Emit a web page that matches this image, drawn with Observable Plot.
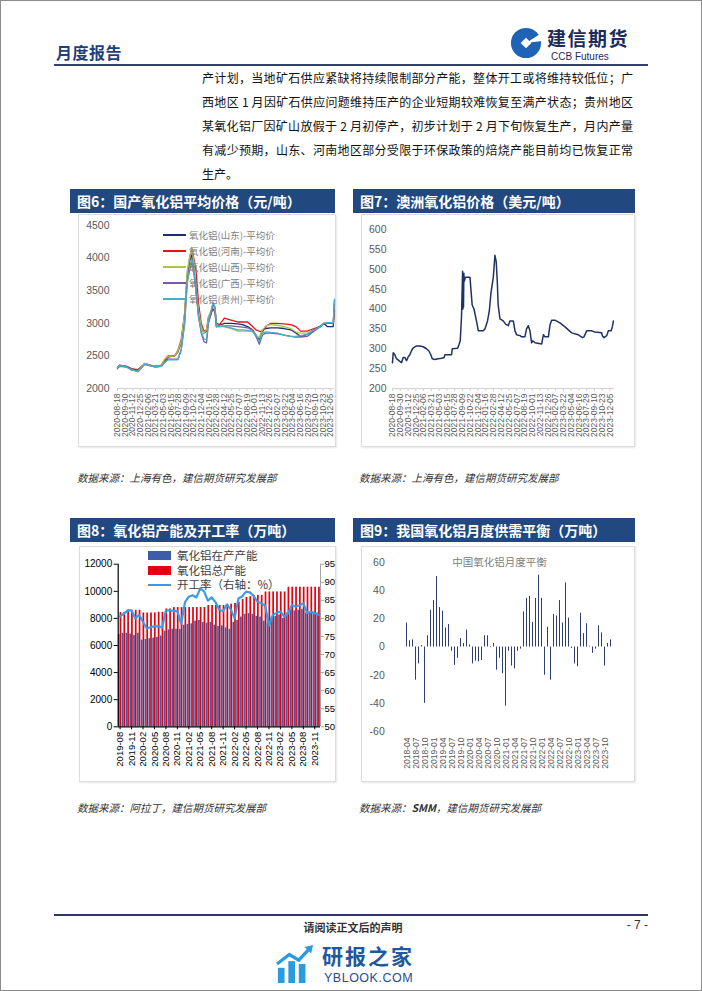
<!DOCTYPE html>
<html><head><meta charset="utf-8">
<script src="https://cdn.jsdelivr.net/npm/d3@7"></script>
<script src="https://cdn.jsdelivr.net/npm/@observablehq/plot@0.6"></script>
<style>
body{margin:0;background:#fff;font-family:"Noto Sans CJK SC","Noto Sans",sans-serif;}
#page{position:relative;width:702px;height:991px;box-sizing:border-box;border:1px solid #8c8c8c;overflow:hidden;background:#fff}
.abs{position:absolute}
.tbar{position:absolute;height:24px;background:#21497f;color:#fff;font-weight:bold;font-size:14px;line-height:24px;padding-left:7px;box-sizing:border-box;white-space:nowrap}
.panel{position:absolute;border:1px solid #dcdcdc;box-shadow:1px 1px 2px rgba(0,0,0,0.10);background:#fff;box-sizing:border-box}
.src{position:absolute;font-size:10.5px;font-style:italic;color:#333;white-space:nowrap}
.pl{position:absolute;left:201px;width:431px;font-size:12px;line-height:24px;color:#111;text-align:justify;text-align-last:justify}
.chart{position:absolute}
.lg6{position:absolute;font-size:9.5px;color:#808080;white-space:nowrap;line-height:12px}
.lg6 i{display:inline-block;width:23px;height:2px;vertical-align:middle;margin-right:3px;margin-top:-2px}
.lg8{position:absolute;font-size:11.5px;color:#404040;white-space:nowrap;line-height:14px}
</style>
</head><body>
<div id="page">
  <!-- header -->
  <div class="abs" style="left:55px;top:39px;font-size:16px;font-weight:bold;color:#1f3f7a;letter-spacing:0.5px">月度报告</div>
  <svg class="abs" style="left:509px;top:26px" width="32" height="32" viewBox="0 0 34 34">
    <circle cx="17" cy="17" r="16" fill="#1f63b6"/>
    <rect x="13" y="13" width="8" height="8" fill="#fff" transform="rotate(45 17 17)"/>
    <path d="M17 17 L34 6 L34 15 Z" fill="#fff"/>
  </svg>
  <div class="abs" style="left:546px;top:27px;font-size:19px;line-height:19px;font-weight:bold;color:#1c2a5c;letter-spacing:1.5px">建信期货</div>
  <div class="abs" style="left:550px;top:51px;font-size:10px;line-height:10px;color:#1c2a5c;font-family:'Liberation Sans',Arial">CCB Futures</div>
  <div class="abs" style="left:53px;top:63px;width:594px;height:2px;background:#34406e"></div>

  <!-- paragraph -->
  <div class="pl" style="top:65px">产计划，当地矿石供应紧缺将持续限制部分产能，整体开工或将维持较低位；广</div>
  <div class="pl" style="top:89px">西地区 1 月因矿石供应问题维持压产的企业短期较难恢复至满产状态；贵州地区</div>
  <div class="pl" style="top:113px">某氧化铝厂因矿山放假于 2 月初停产，初步计划于 2 月下旬恢复生产，月内产量</div>
  <div class="pl" style="top:137px">有减少预期，山东、河南地区部分受限于环保政策的焙烧产能目前均已恢复正常</div>
  <div class="pl" style="top:161px;text-align-last:left">生产。</div>

  <!-- figure titles -->
  <div class="tbar" style="left:69px;top:188px;width:265px">图6：国产氧化铝平均价格（元/吨）</div>
  <div class="tbar" style="left:352px;top:188px;width:282px">图7：澳洲氧化铝价格（美元/吨）</div>
  <div class="tbar" style="left:69px;top:517px;width:265px">图8：氧化铝产能及开工率（万吨）</div>
  <div class="tbar" style="left:352px;top:517px;width:282px">图9：我国氧化铝月度供需平衡（万吨）</div>

  <div class="panel" style="left:77px;top:213px;width:258px;height:233px"></div>
  <div class="panel" style="left:360px;top:213px;width:274px;height:233px"></div>
  <div class="panel" style="left:78px;top:545px;width:257px;height:236px"></div>
  <div class="panel" style="left:360px;top:545px;width:274px;height:236px"></div>

  <div id="c6" class="chart" style="left:77px;top:213px"></div>
  <div id="c7" class="chart" style="left:360px;top:213px"></div>
  <div id="c8" class="chart" style="left:78px;top:545px"></div>
  <div id="c9" class="chart" style="left:360px;top:545px"></div>

  <div id="lg6"></div>
  <div id="lg8"></div>
  <div class="abs" style="left:450px;top:553px;width:97px;text-align:center;font-size:10.5px;color:#808080;white-space:nowrap">中国氧化铝月度平衡</div>

  <div class="src" style="left:76px;top:469px">数据来源：上海有色，建信期货研究发展部</div>
  <div class="src" style="left:358px;top:469px">数据来源：上海有色，建信期货研究发展部</div>
  <div class="src" style="left:76px;top:799px">数据来源：阿拉丁，建信期货研究发展部</div>
  <div class="src" style="left:358px;top:799px">数据来源：<b>SMM</b>，建信期货研究发展部</div>

  <!-- footer -->
  <div class="abs" style="left:53px;top:913px;width:594px;height:2px;background:#2f3768"></div>
  <div class="abs" style="left:252px;top:918px;width:200px;text-align:center;font-size:11px;font-weight:bold;color:#333">请阅读正文后的声明</div>
  <div class="abs" style="left:612px;top:917px;width:35px;text-align:right;font-size:12px;color:#333;font-family:'Liberation Sans',Arial">- 7 -</div>
  <svg class="abs" style="left:275px;top:944px" width="38" height="38" viewBox="0 0 40 40">
    <rect x="2" y="24" width="7" height="16" fill="#2a9be0"/>
    <rect x="13" y="17" width="7" height="23" fill="#2a9be0"/>
    <rect x="24" y="20" width="7" height="20" fill="#2a9be0"/>
    <path d="M1 20 L14 10 L24 16 L36 3" stroke="#2a9be0" stroke-width="3.5" fill="none"/>
    <path d="M30 2 L39 0 L37 9 Z" fill="#2a9be0"/>
  </svg>
  <div class="abs" style="left:321px;top:944px;font-size:21px;line-height:21px;font-weight:bold;color:#23579c;letter-spacing:2px">研报之家</div>
  <div class="abs" style="left:323px;top:971px;font-size:12.5px;line-height:12.5px;color:#1f4d8d;font-family:'Liberation Sans',Arial;letter-spacing:0.5px">YBLOOK.COM</div>
</div>

<script>
// ---------- Figure 6: domestic alumina average price ----------
const labels67 = ["2020-08-18","2020-09-30","2020-11-12","2020-12-25","2021-02-06","2021-03-21","2021-05-03","2021-06-15","2021-07-28","2021-09-09","2021-10-22","2021-12-04","2022-01-16","2022-02-28","2022-04-12","2022-05-25","2022-07-07","2022-08-19","2022-10-01","2022-11-13","2022-12-26","2023-02-07","2023-03-22","2023-05-04","2023-06-16","2023-07-29","2023-09-10","2023-10-23","2023-12-05"];
const dates6 = ["2020-08-18","2020-08-31","2020-10-08","2020-11-05","2020-12-12","2021-01-19","2021-02-16","2021-03-16","2021-04-23","2021-05-11","2021-05-30","2021-07-07","2021-07-25","2021-08-13","2021-09-01","2021-09-16","2021-09-29","2021-10-12","2021-10-23","2021-11-05","2021-11-19","2021-12-04","2021-12-19","2022-01-03","2022-01-14","2022-01-29","2022-02-09","2022-02-20","2022-02-28",
"2022-03-17","2022-04-14","2022-05-21","2022-06-28","2022-07-26","2022-08-23","2022-09-20","2022-10-09","2022-10-28","2022-11-15","2022-12-04","2023-01-01","2023-02-08","2023-03-17","2023-04-24","2023-05-22","2023-06-19","2023-07-27","2023-09-02","2023-10-10","2023-10-28","2023-11-16","2023-12-05","2023-12-20","2023-12-27"];
const seriesNames6 = ["氧化铝(山东)-平均价","氧化铝(河南)-平均价","氧化铝(山西)-平均价","氧化铝(广西)-平均价","氧化铝(贵州)-平均价"];
const seriesColors6 = ["#1f2d6b","#e3141c","#a8c64e","#7a5aa6","#4bacc6"];
const shandong6 = [2320,2360,2340,2300,2280,2380,2360,2340,2350,2420,2480,2500,2560,2700,3100,3700,3950,4050,3850,3500,3150,2950,2850,2880,3050,3150,3250,3150,2950,
 2970,3000,3000,2990,2980,2950,2900,2820,2750,2900,2920,2930,2930,2920,2900,2850,2800,2830,2900,2960,3000,2950,2950,2950,3200];
const henan6 = [2320,2350,2340,2300,2290,2380,2360,2340,2360,2440,2500,2500,2580,2750,3150,3750,4000,4150,4000,3800,3300,3000,2880,2900,3100,3150,3250,3200,3000,
 2980,3080,3050,3020,3020,3020,2950,2900,2880,2870,2950,3000,3000,2990,2980,2950,2880,2880,2920,2950,3000,3000,3000,3000,3300];
const shanxi6 = [2300,2350,2330,2280,2270,2390,2360,2340,2350,2450,2490,2500,2570,2720,3150,3800,4000,4150,3950,3550,3200,2950,2850,2900,3100,3200,3250,3200,2950,
 2960,2950,2920,2880,2880,2880,2870,2820,2780,2900,2960,2980,2970,2950,2920,2870,2850,2850,2890,2950,3000,3000,3000,3000,3350];
const guangxi6 = [2310,2340,2330,2290,2260,2370,2350,2330,2340,2400,2450,2450,2450,2600,3000,3650,3800,3950,3800,3500,3100,2850,2720,2700,3000,3150,3300,3250,2950,
 2950,2960,2960,2950,2940,2930,2900,2800,2680,2820,2850,2850,2840,2820,2800,2790,2790,2800,2880,2950,2990,3000,3000,3000,3350];
const guizhou6 = [2320,2350,2330,2290,2260,2370,2350,2330,2340,2400,2440,2440,2440,2580,2980,3600,3850,4000,3800,3450,3100,2880,2760,2750,3050,3200,3320,3250,2950,
 2950,2950,2930,2900,2900,2890,2880,2820,2720,2850,2870,2860,2850,2820,2800,2800,2810,2830,2900,2950,3000,3010,3010,3010,3370];
const yTicks6 = [2000,2500,3000,3500,4000,4500];

// ---------- Figure 7: Australian alumina price ----------
const dates7 = ["2020-08-18","2020-08-22","2020-08-31","2020-09-09","2020-09-18","2020-09-28","2020-10-07","2020-10-16","2020-10-25","2020-11-04","2020-11-13","2020-11-22","2020-12-01","2020-12-11","2020-12-29","2021-01-16","2021-02-04","2021-02-22","2021-03-07","2021-03-18","2021-03-26","2021-04-10","2021-04-28","2021-05-17","2021-05-31","2021-06-04","2021-07-11","2021-07-15","2021-08-13","2021-08-21","2021-08-28","2021-09-04","2021-09-10","2021-09-12","2021-09-14","2021-09-15","2021-09-17","2021-09-19","2021-09-26","2021-10-21","2021-10-26","2021-11-02","2021-11-12","2021-11-21","2021-11-28","2021-12-06","2022-01-02","2022-01-12","2022-01-26","2022-02-05","2022-02-14","2022-02-27","2022-03-08","2022-03-15","2022-03-21","2022-03-26","2022-04-05","2022-04-23","2022-05-06","2022-05-21","2022-05-30","2022-06-18","2022-06-27","2022-07-06","2022-07-25","2022-08-03","2022-08-21","2022-08-30","2022-09-09","2022-09-18","2022-09-27","2022-10-03","2022-10-16","2022-11-22","2022-12-01","2022-12-10","2022-12-29","2023-01-07","2023-01-16","2023-02-03","2023-03-03","2023-03-31","2023-05-07","2023-06-13","2023-07-05","2023-07-14","2023-07-29","2023-08-26","2023-09-13","2023-10-20","2023-10-24","2023-11-02","2023-11-17","2023-11-26","2023-12-11","2023-12-18","2023-12-24"];
const aus7 = [265,290,285,275,272,268,265,278,278,270,280,285,295,302,307,307,305,300,295,285,275,273,275,276,278,285,285,300,301,310,320,380,495,400,490,405,490,470,480,480,450,410,400,380,365,345,345,350,370,395,440,480,535,520,470,410,375,370,362,358,370,370,345,335,333,330,330,350,358,345,315,320,315,312,335,330,330,360,372,372,365,355,340,335,328,330,345,345,342,340,332,328,333,345,345,355,370];
const yTicks7 = [200,250,300,350,400,450,500,550,600];

// ---------- Figure 8: capacity & operating rate ----------
const months8 = ["2019-08","2019-09","2019-10","2019-11","2019-12",
"2020-01","2020-02","2020-03","2020-04","2020-05","2020-06","2020-07","2020-08","2020-09","2020-10","2020-11","2020-12",
"2021-01","2021-02","2021-03","2021-04","2021-05","2021-06","2021-07","2021-08","2021-09","2021-10","2021-11","2021-12",
"2022-01","2022-02","2022-03","2022-04","2022-05","2022-06","2022-07","2022-08","2022-09","2022-10","2022-11","2022-12",
"2023-01","2023-02","2023-03","2023-04","2023-05","2023-06","2023-07","2023-08","2023-09","2023-10","2023-11","2023-12"];
const opCap8 = [6800,6900,6900,6850,6750,6900,6400,6450,6500,6550,6600,6700,7050,7150,7200,7200,7200,7500,7550,7600,7800,7850,7700,7650,7700,7500,7400,7450,7300,7200,7700,7850,8100,8300,8350,8300,8150,8100,7800,7700,8100,8150,8250,8000,8400,8600,8550,8600,8650,8400,8450,8450,8400];
const totalCap8 = [8430,8430,8600,8600,8600,8600,8400,8400,8400,8400,8450,8450,8700,8700,8800,8800,8800,8800,8800,8800,8800,8800,8800,8950,8950,8950,8950,8950,9000,9050,9100,9200,9400,9550,9600,9700,9700,9700,9950,9950,9950,9950,9950,9950,10300,10300,10300,10300,10300,10300,10300,10300,10300];
const rate8 = [80.6,81.3,82.2,82.2,80.0,81.0,79.0,77.2,77.6,77.8,77.8,77.5,82.2,82.2,82.0,82.0,78.5,84.5,86.0,86.4,85.8,88.3,87.5,84.9,85.8,84.5,82.4,82.0,83.9,82.5,80.0,85.5,86.1,87.4,87.2,86.2,84.6,84.2,83.5,78.0,81.0,81.5,81.9,80.5,81.4,83.7,83.3,83.6,84.2,81.5,81.8,81.4,81.0];
const ticks8 = ["2019-08","2019-11","2020-02","2020-05","2020-08","2020-11","2021-02","2021-05","2021-08","2021-11","2022-02","2022-05","2022-08","2022-11","2023-02","2023-05","2023-08","2023-11"];
const yTicks8 = [0,2000,4000,6000,8000,10000,12000];
const yTicks8R = [50,55,60,65,70,75,80,85,90,95];
const legend8 = ["氧化铝在产产能","氧化铝总产能","开工率（右轴：%）"];

// ---------- Figure 9: monthly balance ----------
const months9 = ["2018-04","2018-05","2018-06","2018-07","2018-08","2018-09","2018-10","2018-11","2018-12",
"2019-01","2019-02","2019-03","2019-04","2019-05","2019-06","2019-07","2019-08","2019-09","2019-10","2019-11","2019-12",
"2020-01","2020-02","2020-03","2020-04","2020-05","2020-06","2020-07","2020-08","2020-09","2020-10","2020-11","2020-12",
"2021-01","2021-02","2021-03","2021-04","2021-05","2021-06","2021-07","2021-08","2021-09","2021-10","2021-11","2021-12",
"2022-01","2022-02","2022-03","2022-04","2022-05","2022-06","2022-07","2022-08","2022-09","2022-10","2022-11","2022-12",
"2023-01","2023-02","2023-03","2023-04","2023-05","2023-06","2023-07","2023-08","2023-09","2023-10","2023-11","2023-12"];
const balance9 = [17,4.5,5,-23.5,-12,1,-40,8,26,33,50,28,25.5,13.5,16,-3,-13,-8,6,2.5,12,1.5,-12,-10,-10.5,-9.5,8,8,-0.5,2.5,-16.5,-8,-19,-42,-3,-13.5,-15.5,-3,-1.5,25,34.5,36,17.5,34.5,51,34.5,-20,14,-23.5,23,22,33,17,45.5,20.5,-1,-12,-14,24,9.5,16.5,0.5,-4.5,-1.5,15,10,-13.5,2.5,5];
const ticks9 = ["2018-04","2018-07","2018-10","2019-01","2019-04","2019-07","2019-10","2020-01","2020-04","2020-07","2020-10","2021-01","2021-04","2021-07","2021-10","2022-01","2022-04","2022-07","2022-10","2023-01","2023-04","2023-07","2023-10"];
const yTicks9 = [-60,-40,-20,0,20,40,60];

const fmtDay = d3.utcFormat("%Y-%m-%d");
const plain = d => String(d);
const baseStyle = {background:"transparent", fontFamily:"'Liberation Sans', Arial, sans-serif", overflow:"visible"};

// ===== chart 6 =====
const rows6 = [];
[shandong6, henan6, shanxi6, guangxi6, guizhou6].forEach((arr, s) => {
  arr.forEach((v, i) => rows6.push({series: seriesNames6[s], date: new Date(dates6[i]), value: v}));
});
const c6 = Plot.plot({
  width: 258, height: 233,
  marginLeft: 39, marginRight: 2, marginTop: 11, marginBottom: 59,
  style: baseStyle,
  x: {type: "utc", domain: [new Date("2020-08-18"), new Date("2023-12-27")]},
  y: {domain: [2000, 4500]},
  color: {domain: seriesNames6, range: seriesColors6},
  marks: [
    Plot.ruleY([2000], {stroke: "#d0d0d0"}),
    Plot.axisY({ticks: yTicks6, tickFormat: plain, tickSize: 0, tickPadding: 8, fontSize: 10.5, fill: "#595959", label: null}),
    Plot.axisX({ticks: labels67.map(s => new Date(s)), tickFormat: fmtDay, tickRotate: -90, tickSize: 3, stroke: "#d0d0d0", tickPadding: 2, fontSize: 8.5, fill: "#595959", label: null}),
    Plot.line(rows6, {x: "date", y: "value", z: "series", stroke: "series", strokeWidth: 1.3})
  ]
});
document.getElementById("c6").appendChild(c6);

// legend 6
const lg6 = document.getElementById("lg6");
seriesNames6.forEach((n, i) => {
  const d = document.createElement("div");
  d.className = "lg6";
  d.style.left = "162px";
  d.style.top = (228 + i * 16) + "px";
  d.innerHTML = `<i style="background:${seriesColors6[i]}"></i>${n}`;
  lg6.appendChild(d);
});

// ===== chart 7 =====
const rows7 = dates7.map((d, i) => ({date: new Date(d), value: aus7[i]}));
const c7 = Plot.plot({
  width: 274, height: 233,
  marginLeft: 31, marginRight: 21, marginTop: 15, marginBottom: 59,
  style: baseStyle,
  x: {type: "utc", domain: [new Date("2020-08-18"), new Date("2023-12-30")]},
  y: {domain: [200, 600]},
  marks: [
    Plot.ruleY([200], {stroke: "#d0d0d0"}),
    Plot.axisY({ticks: yTicks7, tickFormat: plain, tickSize: 0, tickPadding: 6, fontSize: 10.5, fill: "#595959", label: null}),
    Plot.axisX({ticks: labels67.map(s => new Date(s)), tickFormat: fmtDay, tickRotate: -90, tickSize: 3, stroke: "#d0d0d0", tickPadding: 2, fontSize: 8.5, fill: "#595959", label: null}),
    Plot.line(rows7, {x: "date", y: "value", stroke: "#1f3265", strokeWidth: 1.5})
  ]
});
document.getElementById("c7").appendChild(c7);

// ===== chart 8 =====
const toLeft = r => (r - 50) / 45 * 12000;
const rows8 = months8.map((m, i) => ({m, op: opCap8[i], total: totalCap8[i], rate: rate8[i]}));
const bw8 = (257 - 38.7 - 16) / months8.length;
const c8 = Plot.plot({
  width: 257, height: 236,
  marginLeft: 38.7, marginRight: 16, marginTop: 17.7, marginBottom: 55.7,
  style: baseStyle,
  x: {type: "band", domain: months8, paddingInner: 0, paddingOuter: 0},
  y: {domain: [0, 12000]},
  marks: [
    Plot.barY(rows8, {x: "m", y: "total", fill: "#e3000f", insetLeft: bw8 * 0.5, insetRight: 0.2}),
    Plot.barY(rows8, {x: "m", y: "op", fill: "#3f5ca8", insetLeft: 0.2, insetRight: bw8 * 0.5}),
    Plot.lineY(rows8, {x: "m", y: d => toLeft(d.rate), stroke: "#3a9be8", strokeWidth: 2.2}),
    Plot.ruleX([months8[0]], {dx: -bw8 / 2, stroke: "#000", strokeWidth: 1.2}),
    Plot.ruleX([months8[months8.length - 1]], {dx: bw8 / 2, stroke: "#a6a6a6"}),
    Plot.ruleY([0], {stroke: "#000", strokeWidth: 1.2}),
    Plot.axisY({ticks: yTicks8, tickFormat: plain, tickSize: 4, tickPadding: 2, fontSize: 10, fill: "#000", label: null}),
    Plot.axisY(yTicks8R.map(toLeft), {anchor: "right", tickFormat: v => String(Math.round(v / 12000 * 45 + 50)), tickSize: 3, stroke: "#a6a6a6", tickPadding: 1, fontSize: 9.5, fill: "#000", label: null}),
    Plot.axisX({ticks: ticks8, tickRotate: -90, tickSize: 3, tickPadding: 2, fontSize: 9.5, fill: "#000", label: null})
  ]
});
document.getElementById("c8").appendChild(c8);

// legend 8
const lg8 = document.getElementById("lg8");
const sw8 = [
  `<span style="display:inline-block;width:23px;height:9px;background:#3f5ca8;vertical-align:middle;margin-right:6px;margin-top:-2px"></span>`,
  `<span style="display:inline-block;width:23px;height:9px;background:#e3000f;vertical-align:middle;margin-right:6px;margin-top:-2px"></span>`,
  `<span style="display:inline-block;width:23px;height:2px;background:#3a9be8;vertical-align:middle;margin-right:6px;margin-top:-2px"></span>`
];
legend8.forEach((n, i) => {
  const d = document.createElement("div");
  d.className = "lg8";
  d.style.left = "147px";
  d.style.top = (547 + i * 14.5) + "px";
  d.innerHTML = sw8[i] + n;
  lg8.appendChild(d);
});

// ===== chart 9 =====
const rows9 = months9.map((m, i) => ({m, v: balance9[i]}));
const c9 = Plot.plot({
  width: 274, height: 236,
  marginLeft: 30.3, marginRight: 9, marginTop: 16, marginBottom: 51,
  style: baseStyle,
  x: {type: "band", domain: months9, paddingInner: 0, paddingOuter: 0},
  y: {domain: [-60, 60]},
  marks: [
    Plot.barY(rows9, {x: "m", y: "v", fill: "#2d3e6f", insetLeft: 1.0, insetRight: 1.0}),
    Plot.axisY({ticks: yTicks9, tickFormat: plain, tickSize: 0, tickPadding: 7, fontSize: 10.5, fill: "#595959", label: null}),
    Plot.axisX({ticks: ticks9, tickRotate: -90, tickSize: 0, tickPadding: 6, fontSize: 8.5, fill: "#595959", label: null})
  ]
});
document.getElementById("c9").appendChild(c9);
</script>
</body></html>
